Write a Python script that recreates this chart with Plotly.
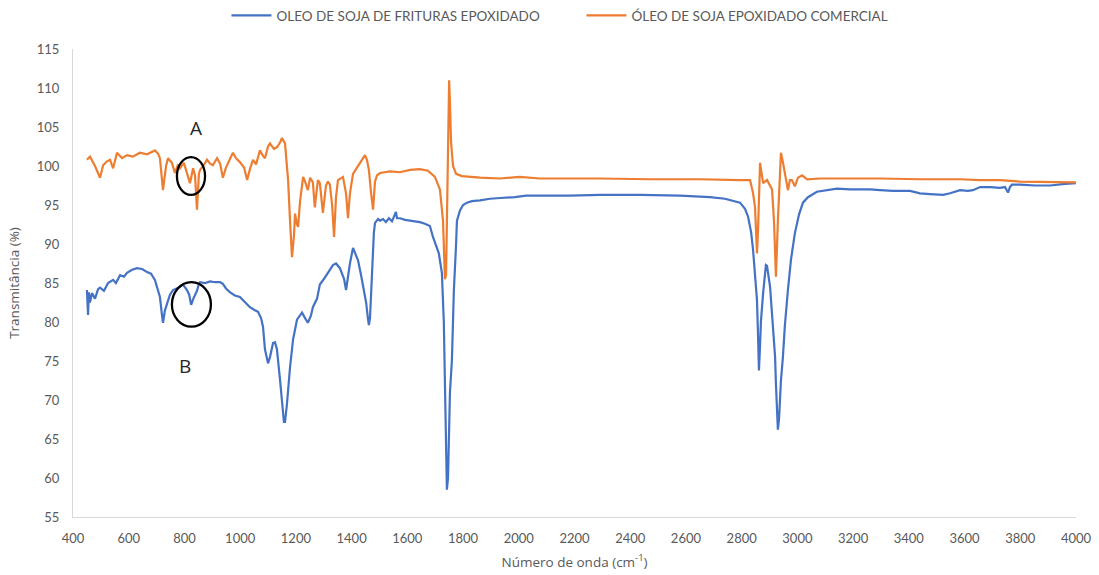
import plotly.graph_objects as go

# FTIR spectra: wavenumber (cm-1) and transmittance (%)
wn_frit = [450, 454, 457, 461, 468, 479, 490, 497, 511, 526, 544, 554, 569, 583, 594, 612, 630, 648,
           666, 680, 694, 705, 712, 719, 723, 730, 737, 748, 759, 773, 784, 795, 809, 817, 824, 831,
           838, 845, 852, 856, 874, 892, 910, 928, 938, 949, 964, 981, 999, 1017, 1035, 1053, 1064,
           1075, 1082, 1089, 1100, 1107, 1118, 1125, 1132, 1143, 1150, 1157, 1161, 1168, 1179, 1190,
           1204, 1215, 1222, 1233, 1243, 1254, 1261, 1276, 1286, 1304, 1319, 1333, 1344, 1358, 1373,
           1380, 1387, 1394, 1405, 1412, 1423, 1434, 1444, 1452, 1459, 1462, 1466, 1470, 1473, 1480,
           1484, 1495, 1502, 1513, 1523, 1534, 1545, 1552, 1559, 1563, 1574, 1592, 1610, 1627, 1645,
           1663, 1681, 1692, 1702, 1713, 1724, 1731, 1735, 1739, 1742, 1746, 1750, 1753, 1760, 1767,
           1775, 1778, 1789, 1800, 1814, 1832, 1861, 1897, 1933, 1986, 2026, 2094, 2184, 2292, 2435,
           2579, 2686, 2740, 2776, 2794, 2812, 2823, 2834, 2841, 2848, 2855, 2859, 2862, 2866, 2869,
           2877, 2884, 2887, 2891, 2894, 2902, 2909, 2916, 2920, 2923, 2927, 2930, 2934, 2937, 2941,
           2948, 2955, 2966, 2977, 2991, 3006, 3020, 3038, 3070, 3106, 3142, 3189, 3261, 3297, 3343,
           3404, 3440, 3476, 3523, 3548, 3584, 3612, 3630, 3656, 3692, 3727, 3745, 3756, 3763, 3770,
           3799, 3853, 3907, 3961, 4000]
t_frit = [84.1, 80.9, 83.8, 82.5, 83.7, 83.0, 84.2, 84.4, 84.0, 85.0, 85.4, 85.0, 86.0, 85.8, 86.3,
          86.7, 86.9, 86.8, 86.4, 86.2, 85.4, 84.2, 83.2, 81.0, 79.9, 81.5, 82.4, 83.5, 84.1, 84.3,
          84.5, 84.8, 84.1, 83.5, 82.2, 82.9, 83.5, 84.0, 84.9, 85.1, 85.0, 85.2, 85.1, 85.1, 84.9,
          84.3, 83.8, 83.4, 83.2, 82.6, 81.9, 81.5, 81.3, 80.5, 79.4, 76.5, 74.7, 75.5, 77.3, 77.4,
          76.5, 72.6, 69.5, 67.2, 67.2, 69.5, 74.2, 77.8, 80.3, 80.9, 81.2, 80.5, 79.9, 80.8, 81.9,
          83.0, 84.8, 85.7, 86.6, 87.3, 87.5, 86.9, 85.5, 84.1, 85.8, 87.5, 89.5, 88.8, 87.9, 86.0,
          84.0, 82.5, 80.3, 79.6, 80.5, 83.5, 87.1, 91.5, 92.7, 93.2, 93.0, 93.2, 92.8, 93.3, 92.9,
          93.5, 94.1, 93.3, 93.3, 93.1, 93.0, 92.9, 92.8, 92.6, 92.3, 90.9, 90.0, 88.8, 86.3, 80.0,
          72.0, 64.0, 58.5, 60.0, 66.0, 71.0, 75.1, 84.0, 90.0, 93.0, 94.3, 95.0, 95.3, 95.5, 95.6,
          95.8, 95.9, 96.0, 96.2, 96.2, 96.2, 96.3, 96.3, 96.2, 96.0, 95.8, 95.5, 95.3, 94.5, 93.5,
          91.5, 89.2, 86.0, 82.8, 78.0, 73.8, 77.0, 80.0, 83.7, 86.2, 87.3, 87.2, 86.3, 84.5, 81.0,
          77.5, 75.5, 72.0, 68.5, 66.2, 67.5, 70.0, 72.5, 75.5, 79.5, 84.1, 88.0, 91.4, 93.8, 95.3,
          96.0, 96.7, 96.9, 97.1, 97.0, 97.0, 96.9, 96.8, 96.8, 96.5, 96.4, 96.3, 96.5, 96.9, 96.8,
          96.9, 97.3, 97.3, 97.2, 97.3, 96.6, 97.3, 97.6, 97.6, 97.5, 97.5, 97.7, 97.8]

wn_com = [450, 461, 479, 497, 508, 522, 533, 544, 558, 576, 594, 615, 640, 666, 694, 705, 712, 723,
          734, 741, 755, 766, 777, 784, 798, 813, 820, 831, 838, 845, 852, 856, 867, 881, 892, 902,
          917, 928, 938, 949, 960, 974, 985, 999, 1014, 1025, 1035, 1046, 1057, 1071, 1082, 1089,
          1100, 1107, 1121, 1132, 1143, 1150, 1161, 1168, 1172, 1179, 1186, 1193, 1197, 1204, 1208,
          1215, 1226, 1233, 1243, 1251, 1261, 1268, 1279, 1286, 1297, 1308, 1315, 1322, 1330, 1337,
          1344, 1351, 1362, 1369, 1380, 1387, 1394, 1405, 1416, 1430, 1441, 1448, 1455, 1462, 1470,
          1477, 1484, 1491, 1502, 1538, 1574, 1610, 1645, 1674, 1699, 1717, 1728, 1735, 1739, 1742,
          1746, 1750, 1753, 1757, 1764, 1775, 1796, 1825, 1861, 1933, 2004, 2076, 2184, 2292, 2471,
          2650, 2794, 2830, 2841, 2848, 2855, 2859, 2866, 2877, 2891, 2909, 2916, 2923, 2930, 2937,
          2941, 2948, 2955, 2966, 2973, 2980, 2991, 3002, 3017, 3035, 3081, 3189, 3297, 3440, 3584,
          3656, 3727, 3799, 3907, 4000]
t_com = [100.8, 101.2, 100.0, 98.5, 100.1, 100.6, 100.8, 99.7, 101.7, 101.0, 101.4, 101.2, 101.7,
         101.5, 102.0, 101.6, 101.0, 96.9, 100.0, 101.0, 100.4, 99.1, 100.2, 99.7, 100.4, 98.8, 97.8,
         99.7, 98.8, 94.4, 99.0, 99.5, 100.0, 100.8, 100.3, 100.1, 101.0, 100.3, 98.5, 99.8, 100.6,
         101.7, 101.0, 100.5, 99.8, 98.2, 99.6, 100.8, 100.2, 102.0, 101.3, 101.0, 102.5, 102.9,
         102.2, 102.4, 103.0, 103.6, 102.9, 100.5, 98.2, 93.0, 88.3, 91.0, 93.9, 92.5, 92.2, 95.5,
         98.6, 98.0, 96.9, 98.5, 97.9, 94.7, 98.2, 97.8, 94.0, 97.5, 98.0, 97.6, 95.0, 90.9, 96.0,
         98.2, 98.5, 98.6, 96.5, 93.3, 96.5, 99.0, 99.6, 100.4, 101.0, 101.4, 100.8, 99.5, 96.5,
         94.4, 98.0, 98.8, 99.1, 99.3, 99.2, 99.5, 99.6, 99.4, 98.6, 97.0, 93.0, 85.5, 86.0, 95.0,
         105.0, 111.0, 108.0, 103.0, 100.0, 99.0, 98.7, 98.6, 98.5, 98.4, 98.6, 98.4, 98.4, 98.4,
         98.3, 98.3, 98.2, 98.2, 96.5, 94.7, 88.8, 92.0, 100.4, 97.8, 98.2, 97.0, 93.0, 85.8, 93.0,
         100.0, 101.7, 100.5, 99.1, 96.9, 98.2, 98.2, 97.4, 98.5, 98.8, 98.3, 98.4, 98.4, 98.4,
         98.3, 98.3, 98.2, 98.2, 98.0, 97.9, 97.9]

series_names = ["OLEO DE SOJA DE FRITURAS EPOXIDADO", "ÓLEO DE SOJA EPOXIDADO COMERCIAL"]
series_colors = ["#4472C4", "#ED7D31"]

x_ticks = list(range(400, 4001, 200))
y_ticks = list(range(55, 116, 5))

# marked bands: (label, x0, x1, y0, y1, label_x, label_y)
marks = [("A", 773, 874, 96.3, 101.15, 841, 104.9),
         ("B", 755, 895, 79.4, 85.1, 802, 74.3)]

fig = go.Figure()
fig.add_trace(go.Scatter(x=wn_frit, y=t_frit, mode="lines", name=series_names[0],
                         line=dict(color=series_colors[0], width=2.2)))
fig.add_trace(go.Scatter(x=wn_com, y=t_com, mode="lines", name=series_names[1],
                         line=dict(color=series_colors[1], width=2.2)))

for label, x0, x1, y0, y1, lx, ly in marks:
    fig.add_shape(type="circle", xref="x", yref="y", x0=x0, x1=x1, y0=y0, y1=y1,
                  line=dict(color="black", width=2.3))
    fig.add_annotation(x=lx, y=ly, text=label, showarrow=False,
                       font=dict(family="Open Sans", size=19, color="#262626"))

axis_font = dict(family="Lato", size=13, color="#595959")
title_font = dict(family="Open Sans", size=13.5, color="#595959")
fig.update_layout(
    width=1099, height=575,
    margin=dict(l=73, r=23, t=49, b=58),
    paper_bgcolor="white", plot_bgcolor="white",
    showlegend=True,
    legend=dict(orientation="h", x=0.153, xanchor="left", y=1.0, yref="container",
                yanchor="top", font=dict(family="Lato", size=13.5, color="#595959"),
                itemwidth=40, entrywidth=300, entrywidthmode="pixels", tracegroupgap=0),
    font=axis_font,
)
fig.update_xaxes(range=[400, 4000], tickvals=x_ticks, showgrid=False, zeroline=False,
                 showline=True, linecolor="#D9D9D9", linewidth=1, ticks="",
                 tickfont=axis_font, ticklabelstandoff=9, automargin=False,
                 title=dict(text="Número de onda (cm<sup>-1</sup>)", font=title_font, standoff=12))
fig.update_yaxes(range=[55, 115], tickvals=y_ticks, showgrid=False, zeroline=False,
                 showline=True, linecolor="#D9D9D9", linewidth=1, ticks="",
                 tickfont=axis_font, ticklabelstandoff=10, automargin=False,
                 title=dict(text="Transmitância (%)", font=title_font, standoff=14))

fig.write_html("out.html")
